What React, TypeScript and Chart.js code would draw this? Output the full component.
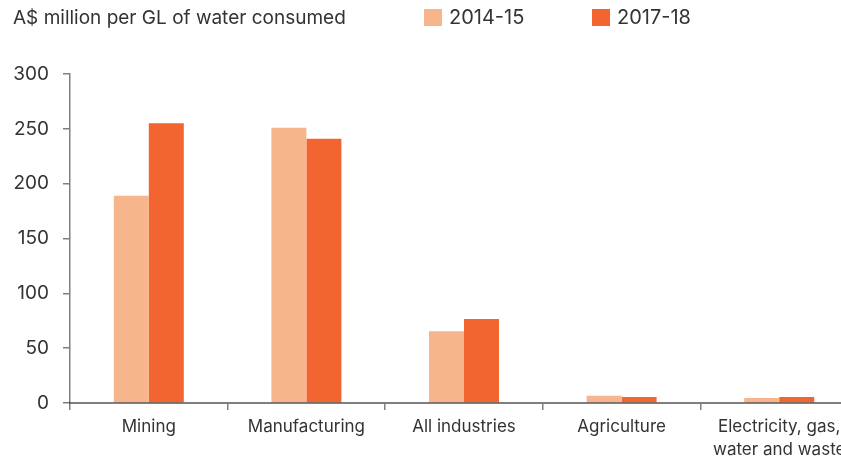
import React, { useEffect, useRef } from "react";
import { Chart, registerables } from "chart.js";

Chart.register(...registerables);

const categories: (string | string[])[] = [
  "Mining",
  "Manufacturing",
  "All industries",
  "Agriculture",
  ["Electricity, gas,", "water and waste"],
];
const series2014: number[] = [189, 251, 65.5, 6.5, 4.5];
const series2017: number[] = [255, 241, 76.5, 5.5, 5.5];
const seriesLabels: string[] = ["2014-15", "2017-18"];
const seriesColors: string[] = ["#F6B58A", "#F26430"];
const yTicks: number[] = [0, 50, 100, 150, 200, 250, 300];
const titleText = "A$ million per GL of water consumed";

const FONT = "Inter, 'Noto Sans', sans-serif";
const TEXT = "#333333";
const AXIS = "rgba(0,0,0,0.5)";

export default function App() {
  const ref = useRef<HTMLCanvasElement | null>(null);

  useEffect(() => {
    if (!ref.current) return;
    const chart = new Chart(ref.current, {
      type: "bar",
      data: {
        labels: categories,
        datasets: [
          { label: seriesLabels[0], data: series2014, backgroundColor: seriesColors[0] },
          { label: seriesLabels[1], data: series2017, backgroundColor: seriesColors[1] },
        ],
      },
      options: {
        animation: false,
        responsive: true,
        maintainAspectRatio: false,
        layout: { padding: { top: 74, left: 0, right: 0, bottom: 0 } },
        datasets: { bar: { categoryPercentage: 0.444, barPercentage: 1 } },
        plugins: { legend: { display: false }, tooltip: { enabled: false } },
        scales: {
          x: {
            grid: {
              display: true,
              drawOnChartArea: false,
              drawTicks: true,
              tickLength: 7,
              color: AXIS,
              lineWidth: 1.5,
            },
            border: { display: true, color: AXIS, width: 2, z: 1 },
            ticks: {
              color: TEXT,
              font: { family: FONT, size: 17, lineHeight: 1.35 },
              padding: 5,
              maxRotation: 0,
              autoSkip: false,
            },
            afterFit: (s: any) => {
              s.height = 55;
            },
          },
          y: {
            min: 0,
            max: 300,
            afterBuildTicks: (s: any) => {
              s.ticks = yTicks.map((v) => ({ value: v }));
            },
            grid: {
              display: true,
              drawOnChartArea: false,
              drawTicks: true,
              tickLength: 7,
              color: AXIS,
              lineWidth: 1.5,
            },
            border: { display: true, color: AXIS, width: 1.5, z: 1 },
            ticks: {
              color: TEXT,
              font: { family: FONT, size: 19 },
              padding: 14,
            },
            afterFit: (s: any) => {
              s.width = 70;
            },
          },
        },
      },
    });
    return () => chart.destroy();
  }, []);

  const legendItemStyle = (left: number): React.CSSProperties => ({
    position: "absolute",
    left,
    top: 5,
    display: "flex",
    alignItems: "center",
    font: `20px ${FONT}`,
    color: TEXT,
    whiteSpace: "nowrap",
  });

  return (
    <div
      style={{
        position: "absolute",
        left: 0,
        top: 0,
        width: 841,
        height: 458,
        overflow: "hidden",
        background: "#fff",
      }}
    >
      <div style={{ position: "absolute", left: 0, top: 0, width: 858, height: 458 }}>
        <canvas ref={ref} />
      </div>
      <div
        style={{
          position: "absolute",
          left: 13,
          top: 6,
          font: `19px ${FONT}`,
          color: TEXT,
          whiteSpace: "nowrap",
        }}
      >
        {titleText}
      </div>
      {seriesLabels.map((lab, i) => (
        <div key={lab} style={legendItemStyle(i === 0 ? 424 : 592)}>
          <span
            style={{
              display: "inline-block",
              width: 18,
              height: 17,
              background: seriesColors[i],
              marginRight: 7,
            }}
          />
          <span>{lab}</span>
        </div>
      ))}
    </div>
  );
}
